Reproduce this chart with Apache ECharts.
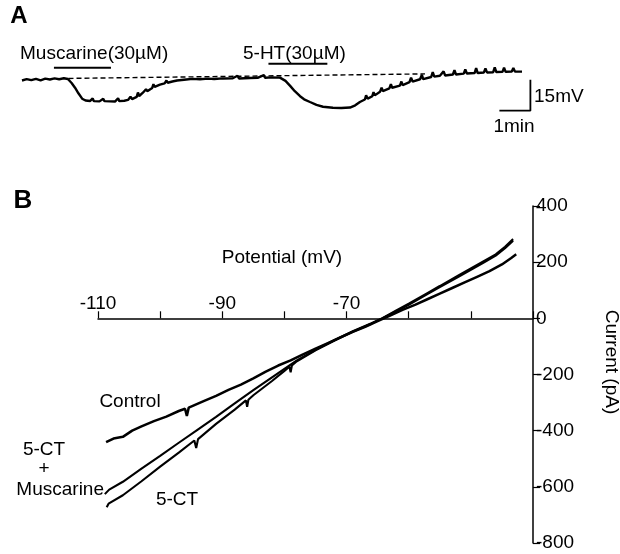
<!DOCTYPE html>
<html>
<head>
<meta charset="utf-8">
<script src="https://cdn.jsdelivr.net/npm/echarts@6/dist/echarts.min.js"></script>
<style>
  html, body { margin: 0; padding: 0; background: #fff; }
  #main { width: 620px; height: 554px; }
</style>
</head>
<body>
<div id="main"></div>
<script>
// A: membrane potential trace (min, mV relative to rest)
var membraneTrace = [
  [0, -0.4], [0.15, 0.3], [0.3, -0.2], [0.45, 0.4], [0.6, -0.3], [0.75, 0.5], [0.9, 0.1], [1.05, 0.6], [1.2, 0.2], [1.35, 0.7], [1.48, 0.3],
  [1.6, -1.6], [1.71, -3.9], [1.82, -6.6], [1.94, -9.2], [2.05, -10.1], [2.2, -10.3], [2.28, -9.1], [2.32, -10.4], [2.5, -10.5], [2.62, -9.2], [2.66, -10.4],
  [2.84, -10.5], [3.0, -10.6], [3.1, -9.0], [3.14, -10.4], [3.3, -10.2], [3.42, -9.8], [3.5, -8.2], [3.55, -9.4], [3.7, -8.3], [3.74, -6.2], [3.78, -7.9],
  [3.9, -6.3], [4.0, -4.6], [4.04, -5.6], [4.2, -4.0], [4.24, -2.2], [4.28, -3.5], [4.45, -2.4], [4.6, -1.8], [4.66, -0.4], [4.7, -1.5], [4.85, -0.9],
  [5.0, -0.4], [5.3, 0.1], [5.5, 0.4], [5.74, 0.2], [6.0, 0.5], [6.2, 0.3], [6.48, 0.6], [6.8, 0.7], [6.95, 1.9], [7.0, 0.6], [7.35, 0.8], [7.6, 0.9],
  [7.8, 2.2], [7.84, 0.9], [8.05, 1.1], [8.32, 1.0],
  [8.5, -0.6], [8.65, -3.0], [8.8, -5.6], [8.97, -8.0], [9.1, -9.5], [9.29, -10.8], [9.5, -12.2], [9.71, -13.1], [10.03, -13.6], [10.3, -13.7],
  [10.58, -13.5], [10.75, -12.4], [10.9, -10.8], [11.06, -9.6], [11.1, -7.6], [11.15, -9.2], [11.3, -8.0], [11.34, -6.0], [11.38, -7.6], [11.55, -5.8],
  [11.6, -3.9], [11.64, -5.5], [11.85, -4.2], [11.9, -2.2], [11.94, -3.9], [12.19, -2.9], [12.24, -0.9], [12.28, -2.6], [12.5, -1.2], [12.55, 1.0],
  [12.6, -0.9], [12.84, 0.2], [12.9, 2.4], [12.94, 0.3], [13.2, 1.3], [13.25, 3.6], [13.3, 1.5], [13.48, 1.9], [13.6, 4.0], [13.65, 2.0], [13.9, 2.5],
  [13.95, 4.6], [14.0, 2.5], [14.25, 2.9], [14.3, 5.0], [14.35, 3.0], [14.6, 3.2], [14.65, 5.6], [14.7, 3.2], [14.9, 3.5], [14.95, 5.4], [15.0, 3.5],
  [15.2, 3.6], [15.25, 6.0], [15.3, 3.7], [15.5, 3.8], [15.55, 5.8], [15.6, 3.8], [15.8, 3.9], [15.85, 5.6], [15.9, 3.9], [16.13, 3.9]
];
var restBaseline = [[1.5, 0.6], [13.0, 2.8]];
var muscarineBar = [[1.03, 5.8], [2.87, 5.8]];
var serotoninBar = [[7.95, 7.7], [9.85, 7.7]];
var scaleBar = [[15.4, -15], [16.4, -15], [16.4, 0]];   // 1 min, 15 mV

// B: I-V curves (mV, pA)
var controlIV = [
  [-108.7, -441], [-107.5, -428], [-106, -422], [-104.5, -400], [-103, -385], [-101, -366], [-99, -350], [-97, -330], [-96, -322],
  [-95.7, -348], [-95.4, -318], [-93, -295], [-91, -276], [-89, -255], [-87, -236], [-85, -214], [-83, -190], [-81, -168], [-79, -150],
  [-77, -128], [-75, -108], [-73, -88], [-71, -68], [-69, -48], [-67, -30], [-65, -10], [-64, 0], [-63, 10], [-61, 30], [-59, 48],
  [-57, 68], [-55, 88], [-53, 108], [-51, 128], [-49, 148], [-47, 168], [-45, 192], [-43.5, 215], [-42.7, 228]
];
var ct5MuscarineIV = [
  [-108.9, -626], [-108.2, -610], [-106, -582], [-103, -535], [-100, -490], [-97, -443], [-94, -397], [-91, -351], [-88, -303],
  [-85, -256], [-82, -210], [-80, -180], [-78, -150], [-75, -112], [-72, -78], [-69, -46], [-66, -17], [-64.3, 0], [-62, 28],
  [-60, 52], [-57, 90], [-55, 115], [-52, 153], [-50, 178], [-48, 203], [-46, 228], [-44.5, 255], [-43.2, 282]
];
var ct5IV = [
  [-108.6, -673], [-108.3, -660], [-106, -630], [-103, -580], [-100, -528], [-97, -478], [-94.5, -435], [-94.2, -462], [-93.9, -430],
  [-91, -376], [-88, -325], [-86.2, -292], [-86, -315], [-85.8, -290], [-85, -274], [-82, -223], [-80, -187], [-79.2, -172],
  [-79, -192], [-78.8, -168], [-78, -153], [-75, -114], [-72, -80], [-69, -48], [-66, -19], [-64.3, 0], [-62, 25], [-60, 48],
  [-57, 86], [-55, 111], [-52, 148], [-50, 173], [-48, 198], [-46, 223], [-44.5, 250], [-43.2, 276]
];
var potentialLabels = [-110, -90, -70];

var font = 'Liberation Sans';
var chart = echarts.init(document.getElementById('main'));

function trace(name, data, xi, style) {
  return {
    name: name,
    type: 'line',
    xAxisIndex: xi,
    yAxisIndex: xi,
    data: data,
    symbol: 'none',
    silent: true,
    lineStyle: Object.assign({ color: '#000', width: 2 }, style || {})
  };
}

function label(text, x, y, size, opts) {
  return {
    type: 'text',
    x: x,
    y: y,
    rotation: (opts && opts.rotation) || 0,
    style: {
      text: text,
      fill: '#000',
      font: ((opts && opts.bold) ? 'bold ' : '') + size + 'px "' + font + '"',
      align: (opts && opts.align) || 'center',
      verticalAlign: 'middle'
    }
  };
}

// grid 1 holds the curves; grid 2 sits on top of it and ends at current = 0,
// so its bottom axis is the potential axis crossing the current axis at zero
var option = {
  animation: false,
  backgroundColor: '#fff',
  grid: [
    { left: 22, top: 59, width: 527, height: 62 },
    { left: 98, top: 206, width: 435, height: 337 },
    { left: 98, top: 206, width: 435, height: 112.3 }
  ],
  xAxis: [
    { gridIndex: 0, type: 'value', min: 0, max: 17, show: false },
    { gridIndex: 1, type: 'value', min: -110, max: -40, show: false },
    {
      gridIndex: 2,
      type: 'value',
      min: -110,
      max: -40,
      interval: 10,
      axisLine: { onZero: false, lineStyle: { color: '#000', width: 1.5 } },
      axisTick: { inside: true, length: 7, lineStyle: { color: '#000', width: 1.2 } },
      axisLabel: {
        inside: true,
        margin: 5,
        color: '#000',
        fontSize: 19,
        fontFamily: font,
        formatter: function (v) { return potentialLabels.indexOf(v) >= 0 ? String(v) : ''; }
      },
      splitLine: { show: false }
    }
  ],
  yAxis: [
    { gridIndex: 0, type: 'value', min: -20, max: 10, show: false },
    {
      gridIndex: 1,
      type: 'value',
      position: 'right',
      min: -800,
      max: 400,
      interval: 200,
      axisLine: { show: true, onZero: false, lineStyle: { color: '#000', width: 1.5 } },
      axisTick: { show: true, length: 7, lineStyle: { color: '#000', width: 1.2 } },
      axisLabel: { margin: 3, color: '#000', fontSize: 19, fontFamily: font },
      splitLine: { show: false }
    },
    { gridIndex: 2, type: 'value', min: 0, max: 400, show: false }
  ],
  series: [
    trace('trace', membraneTrace, 0, { width: 2.4 }),
    trace('baseline', restBaseline, 0, { width: 1.4, type: [5, 3] }),
    trace('Muscarine', muscarineBar, 0, { width: 2 }),
    trace('5-HT', serotoninBar, 0, { width: 2 }),
    trace('scale', scaleBar, 0, { width: 1.8 }),
    trace('Control', controlIV, 1, { width: 2.5 }),
    trace('5-CT + Muscarine', ct5MuscarineIV, 1, { width: 2.1 }),
    trace('5-CT', ct5IV, 1, { width: 2.1 })
  ],
  graphic: [
    label('A', 19, 16, 24, { bold: true }),
    label('Muscarine(30\u00b5M)', 20, 54, 19, { align: 'left' }),
    label('5-HT(30\u00b5M)', 243, 54, 19, { align: 'left' }),
    label('15mV', 534, 97, 19, { align: 'left' }),
    label('1min', 514, 127, 19),
    label('B', 23, 201, 26, { bold: true }),
    label('Potential (mV)', 282, 258, 19),
    label('Current (pA)', 611, 362, 19, { rotation: -Math.PI / 2 }),
    label('Control', 130, 402, 19),
    label('5-CT', 177, 500, 19),
    label('5-CT', 44, 450, 19),
    label('+', 44, 469, 19),
    label('Muscarine', 104, 490, 19, { align: 'right' })
  ]
};

chart.setOption(option);
</script>
</body>
</html>
